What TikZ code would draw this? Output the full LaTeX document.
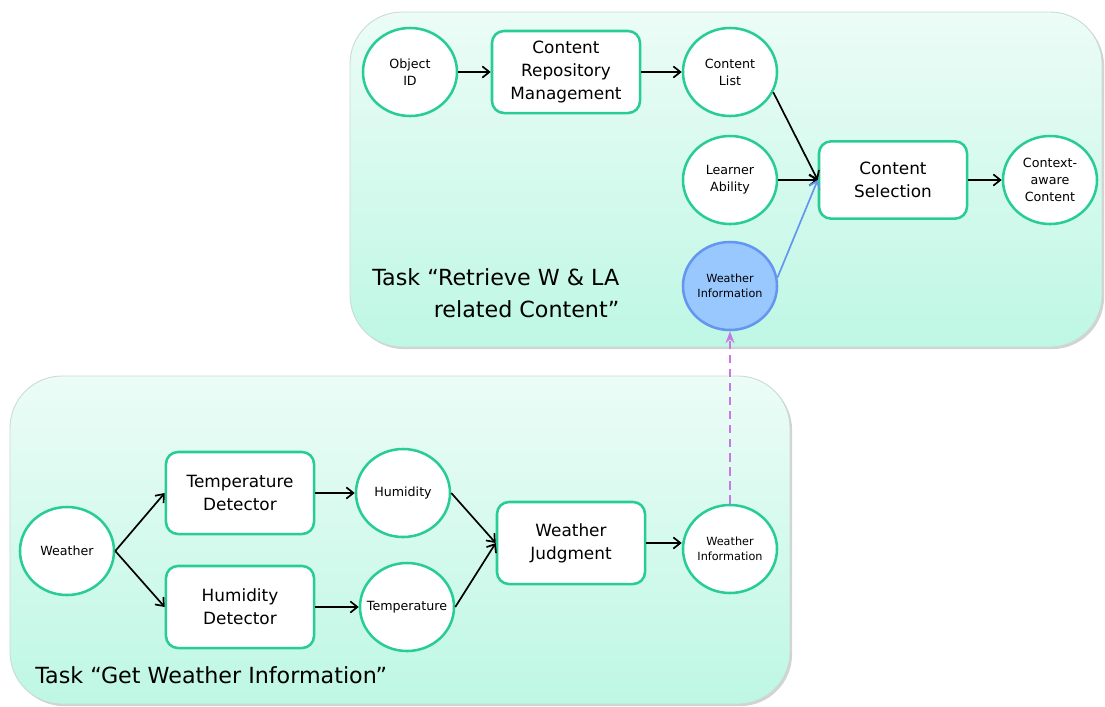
\documentclass[tikz,border=0pt]{standalone}
\usepackage{fontspec}
\setmainfont{DejaVu Sans}
\usetikzlibrary{shapes.geometric,shadows,arrows.meta}
\definecolor{nodeline}{RGB}{40,205,150}
\definecolor{paneltop}{RGB}{236,252,247}
\definecolor{panelbottom}{RGB}{190,247,228}
\definecolor{panelline}{RGB}{200,218,212}
\definecolor{infofill}{RGB}{153,200,255}
\definecolor{infoline}{RGB}{100,150,240}
\definecolor{weatherlink}{RGB}{200,120,230}
\begin{document}
\begin{tikzpicture}[>={Straight Barb[length=5pt,width=8pt]}, x=0.025cm, y=-0.025cm,
  panel/.style={draw=panelline, line width=0.6pt, rounded corners=1.3cm,
    top color=paneltop, bottom color=panelbottom,
    drop shadow={opacity=0.35, shadow xshift=1.5pt, shadow yshift=-1.5pt}},
  circnode/.style={ellipse, draw=nodeline, line width=1.8pt, fill=white,
    minimum width=2.35cm, minimum height=2.2cm, inner sep=0pt, align=center,
    font=\fontsize{9}{12}\selectfont},
  boxnode/.style={rectangle, rounded corners=0.3cm, draw=nodeline, line width=1.8pt,
    fill=white, minimum width=3.7cm, minimum height=2.05cm, align=center,
    font=\fontsize{12}{16.5}\selectfont},
  smalltext/.style={font=\fontsize{8}{11}\selectfont},
  flow/.style={->, line width=1.2pt},
  tasklabel/.style={inner sep=0pt, font=\fontsize{15.8}{22.8}\selectfont}]
\useasboundingbox (0,0) rectangle (1105,706);

\path[panel] (10,376) rectangle (790,704);
\path[panel] (350,12) rectangle (1102,347);

\node[circnode](objid) at (410,72){Object\\ID};
\node[boxnode](repo) at (566,72){Content\\Repository\\Management};
\node[circnode](clist) at (730,72){Content\\List};
\node[circnode](ability) at (730,180){Learner\\Ability};
\node[boxnode, minimum height=1.93cm](select) at (893,180){Content\\Selection};
\node[circnode](context) at (1050,180){Context-\\aware\\Content};
\node[circnode, smalltext, fill=infofill, draw=infoline](infotop) at (730,286){Weather\\Information};
\node[tasklabel, anchor=north west, align=right](tasktop) at (372,268){Task “Retrieve W \& LA\\related Content”};

\draw[flow](objid)--(repo);
\draw[flow](repo)--(clist);
\draw[flow](clist.-25)--(select.west);
\draw[flow](ability)--(select.west);
\draw[flow, draw=infoline](infotop.10)--(select.west);
\draw[flow](select)--(context);



\node[circnode](weather) at (67,551){Weather};
\node[boxnode](tempdet) at (240,493){Temperature\\Detector};
\node[boxnode](humdet) at (240,607){Humidity\\Detector};
\node[circnode](humid) at (403,493){Humidity};
\node[circnode, inner xsep=-6pt](temp) at (407,607){Temperature};
\node[boxnode](judge) at (571,543){Weather\\Judgment};
\node[circnode, smalltext](infobot) at (730,549){Weather\\Information};
\node[tasklabel, anchor=base west](taskbot) at (35,683){Task “Get Weather Information”};

\draw[flow](weather.east)--(tempdet.west);
\draw[flow](weather.east)--(humdet.west);
\draw[flow](tempdet)--(humid);
\draw[flow](humdet)--(temp);
\draw[flow](humid.east)--(judge.west);
\draw[flow](temp.east)--(judge.west);
\draw[flow](judge.east)--(judge.east -| infobot.west);

\draw[-Stealth, line width=1.2pt, draw=weatherlink, dash pattern=on 6pt off 4pt](infobot.north)--(infotop.south);
\end{tikzpicture}
\end{document}
